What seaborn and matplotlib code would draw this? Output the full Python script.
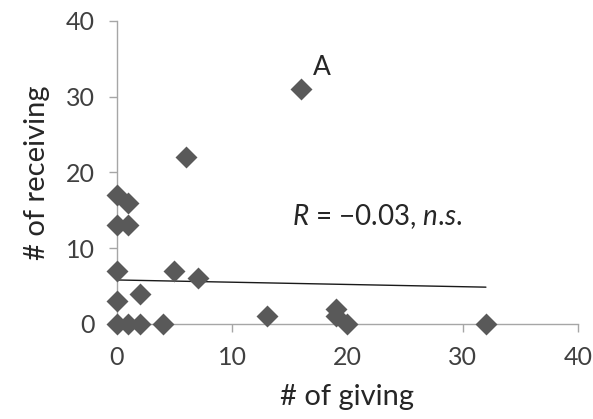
import matplotlib
matplotlib.use("Agg")
import matplotlib.pyplot as plt
import seaborn as sns
import pandas as pd

# data
giving =    [16, 6, 0, 1, 0, 1, 0, 5, 7, 0, 2, 0, 1, 2, 4, 13, 19, 19, 20, 32]
receiving = [31, 22, 17, 16, 13, 13, 7, 7, 6, 3, 4, 0, 0, 0, 0, 1, 2, 1, 0, 0]
trend_x = [0, 32]
trend_y = [5.8, 4.85]
x_ticks = [0, 10, 20, 30, 40]
y_ticks = [0, 10, 20, 30, 40]

sns.set_theme(style="white")
plt.rcParams['font.family'] = ['Lato', 'DejaVu Sans']
plt.rcParams['mathtext.fontset'] = 'custom'
plt.rcParams['mathtext.rm'] = 'Lato'
plt.rcParams['mathtext.it'] = 'Lato:italic'

df = pd.DataFrame({"giving": giving, "receiving": receiving})
tdf = pd.DataFrame({"x": trend_x, "y": trend_y})

fig = plt.figure(figsize=(5.93, 4.19), dpi=100)
ax = fig.add_axes([0.197, 0.227, 0.778, 0.723])

sns.lineplot(data=tdf, x="x", y="y", ax=ax, color="#1a1a1a", linewidth=1.0, zorder=2)
sns.scatterplot(data=df, x="giving", y="receiving", ax=ax, marker="D", s=125,
                color="#595959", edgecolor="#595959", linewidth=0, zorder=3, clip_on=False)

ax.set_xlim(0, 40)
ax.set_ylim(0, 40)
ax.set_xticks(x_ticks)
ax.set_yticks(y_ticks)
for s in ["top", "right"]:
    ax.spines[s].set_visible(False)
for s in ["left", "bottom"]:
    ax.spines[s].set_color("#a6a6a6")
    ax.spines[s].set_linewidth(1.0)
ax.tick_params(axis="both", direction="out", length=6, width=1.0, color="#a6a6a6",
               labelsize=18, labelcolor="#404040", left=True, bottom=True)
ax.tick_params(axis="x", pad=10)
ax.tick_params(axis="y", pad=10)
ax.set_xlabel("# of giving", fontsize=21, color="#262626", labelpad=11)
ax.set_ylabel("# of receiving", fontsize=21, color="#262626", labelpad=11)

ax.text(17.8, 33.8, "A", fontsize=19, color="#262626", ha="center", va="center")
ax.text(15.2, 14.2, r"$\mathit{R}$ = −0.03, $\mathit{n}$.$\mathit{s}$.", fontsize=20,
        color="#262626", ha="left", va="center")

fig.savefig("out.png", dpi=100)
